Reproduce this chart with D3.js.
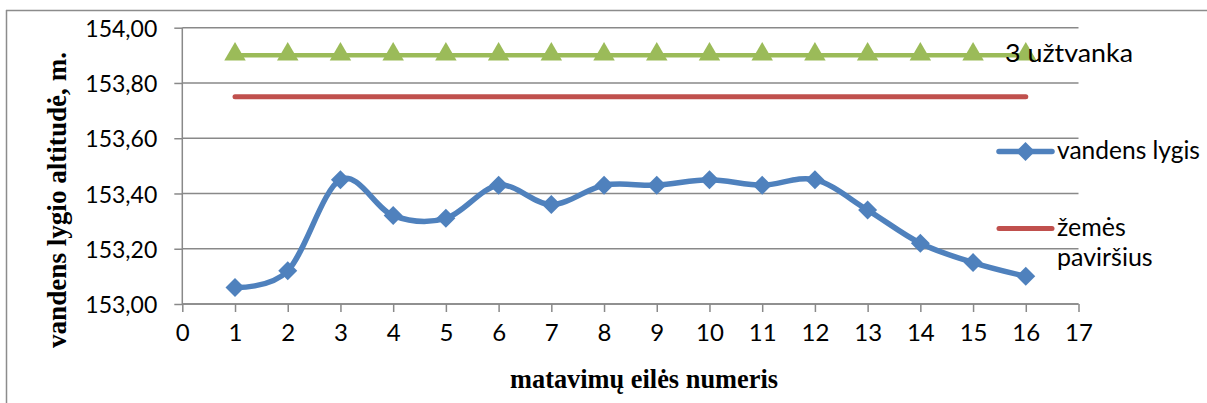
<!DOCTYPE html>
<html>
<head>
<meta charset="utf-8">
<script src="https://cdn.jsdelivr.net/npm/d3@7"></script>
<style>
  html, body { margin: 0; padding: 0; background: #fff; }
  svg { display: block; }
</style>
</head>
<body>
<svg id="chart" width="1207" height="403"></svg>
<script>
// ---- data ----
const measurements = [1,2,3,4,5,6,7,8,9,10,11,12,13,14,15,16];
const waterLevel   = [153.06,153.12,153.45,153.32,153.31,153.43,153.36,153.43,153.43,153.45,153.43,153.45,153.34,153.22,153.15,153.10];
const groundSurface = [153.75,153.75,153.75,153.75,153.75,153.75,153.75,153.75,153.75,153.75,153.75,153.75,153.75,153.75,153.75,153.75];
const dam3 = [153.90,153.90,153.90,153.90,153.90,153.90,153.90,153.90,153.90,153.90,153.90,153.90,153.90,153.90,153.90,153.90];
const yTicks = [153.0,153.2,153.4,153.6,153.8,154.0];
const xTicks = [0,1,2,3,4,5,6,7,8,9,10,11,12,13,14,15,16,17];
const seriesNames = ["3 užtvanka", "vandens lygis", "žemės", "paviršius"];
const xTitle = "matavimų eilės numeris";
const yTitle = "vandens lygio altitudė, m.";

(function () {
// ---- layout ----
const svg = d3.select("#chart");
const pLeft = 182.3, pRight = 1078.5, pTop = 27.7, pBottom = 304;
const x = d3.scaleLinear().domain([0,17]).range([pLeft,pRight]);
const y = d3.scaleLinear().domain([153,154]).range([pBottom,pTop]);
const gridColor = "#898989";
const font = "Lato, 'Open Sans', sans-serif";
const blue = "#4F81BD", red = "#C0504D", green = "#9BBB59";

// outer frame (top + left)
svg.append("path").attr("d", "M6,10.5 H1207 M6.5,10 V403")
  .attr("stroke", "#8c8c8c").attr("stroke-width", 1.5).attr("fill", "none");

// gridlines
svg.append("g").selectAll("line").data(yTicks).join("line")
  .attr("x1", pLeft).attr("x2", pRight)
  .attr("y1", d => y(d)).attr("y2", d => y(d))
  .attr("stroke", gridColor).attr("stroke-width", 1.5);

// y axis
const yAxis = svg.append("g").attr("transform", `translate(${pLeft},0)`)
  .call(d3.axisLeft(y).tickValues(yTicks).tickSize(8).tickPadding(17)
    .tickFormat(d => d3.format(".2f")(d).replace(".", ",")));
yAxis.select(".domain").attr("stroke", gridColor).attr("stroke-width", 1.5).attr("d", `M0,${pTop}V${pBottom}`);
yAxis.selectAll(".tick line").attr("stroke", gridColor).attr("stroke-width", 1.5);
yAxis.selectAll(".tick text").attr("font-family", font).attr("font-size", 24).attr("fill", "#000")
  .attr("dy", "0.36em").attr("textLength", 72).attr("lengthAdjust", "spacingAndGlyphs");

// x axis
const xAxis = svg.append("g").attr("transform", `translate(0,${pBottom})`)
  .call(d3.axisBottom(x).tickValues(xTicks).tickSize(8).tickPadding(12));
xAxis.select(".domain").attr("stroke", gridColor).attr("stroke-width", 1.5).attr("d", `M${pLeft},0H${pRight}`);
xAxis.selectAll(".tick line").attr("stroke", gridColor).attr("stroke-width", 1.5);
xAxis.selectAll(".tick text").attr("font-family", font).attr("font-size", 24).attr("fill", "#000");

// series: 3 užtvanka (green, triangles)
svg.append("path").datum(measurements)
  .attr("d", d3.line().x(d => x(d)).y((d,i) => y(dam3[i])))
  .attr("stroke", green).attr("stroke-width", 4.5).attr("fill", "none");
svg.append("g").selectAll("path").data(measurements).join("path")
  .attr("d", d3.symbol(d3.symbolTriangle, 200)())
  .attr("transform", (d,i) => `translate(${x(d)},${y(dam3[i]) - 1})`)
  .attr("fill", green);

// series: žemės paviršius (red)
svg.append("path").datum(measurements)
  .attr("d", d3.line().x(d => x(d)).y((d,i) => y(groundSurface[i])))
  .attr("stroke", red).attr("stroke-width", 5).attr("stroke-linecap", "round").attr("fill", "none");

// series: vandens lygis (blue, smoothed, diamonds)
svg.append("path").datum(measurements)
  .attr("d", d3.line().x(d => x(d)).y((d,i) => y(waterLevel[i])).curve(d3.curveCatmullRom.alpha(0)))
  .attr("stroke", blue).attr("stroke-width", 5.5).attr("fill", "none");
const diamond = d3.symbol(d3.symbolDiamond2, 230)();
svg.append("g").selectAll("path").data(measurements).join("path")
  .attr("d", diamond)
  .attr("transform", (d,i) => `translate(${x(d)},${y(waterLevel[i])})`)
  .attr("fill", blue);

// legend
const lg = svg.append("g");
lg.append("text").attr("x", 1005).attr("y", 62).text(seriesNames[0])
  .attr("font-family", font).attr("font-size", 25).attr("fill", "#000")
  .attr("textLength", 128).attr("lengthAdjust", "spacingAndGlyphs");
lg.append("line").attr("x1", 999).attr("x2", 1052).attr("y1", 151.5).attr("y2", 151.5)
  .attr("stroke", blue).attr("stroke-width", 5.5).attr("stroke-linecap", "round");
lg.append("path").attr("d", diamond).attr("transform", "translate(1025.5,151.5)").attr("fill", blue);
lg.append("text").attr("x", 1057).attr("y", 159).text(seriesNames[1])
  .attr("font-family", font).attr("font-size", 25).attr("fill", "#000")
  .attr("textLength", 143).attr("lengthAdjust", "spacingAndGlyphs");
lg.append("line").attr("x1", 999).attr("x2", 1052).attr("y1", 228.5).attr("y2", 228.5)
  .attr("stroke", red).attr("stroke-width", 5).attr("stroke-linecap", "round");
lg.append("text").attr("x", 1057).attr("y", 236).text(seriesNames[2])
  .attr("font-family", font).attr("font-size", 25).attr("fill", "#000");
lg.append("text").attr("x", 1057).attr("y", 266).text(seriesNames[3])
  .attr("font-family", font).attr("font-size", 25).attr("fill", "#000");

// axis titles
svg.append("text").attr("x", 644).attr("y", 388).attr("text-anchor", "middle")
  .attr("font-family", "'Liberation Serif', 'Times New Roman', serif").attr("font-weight", "bold")
  .attr("font-size", 28).attr("textLength", 268).attr("lengthAdjust", "spacingAndGlyphs")
  .text(xTitle);
svg.append("text").attr("transform", "translate(66,200) rotate(-90)").attr("text-anchor", "middle")
  .attr("font-family", "'Liberation Serif', 'Times New Roman', serif").attr("font-weight", "bold")
  .attr("font-size", 28).attr("textLength", 296).attr("lengthAdjust", "spacingAndGlyphs")
  .text(yTitle);
})();
</script>
</body>
</html>
